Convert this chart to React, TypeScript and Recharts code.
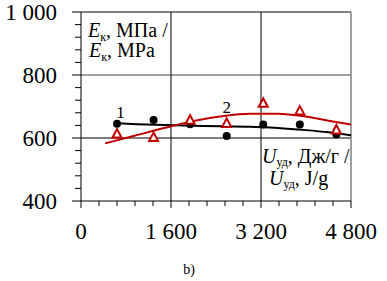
import React from "react";
import {
  ComposedChart,
  Line,
  Scatter,
  XAxis,
  YAxis,
  ReferenceLine,
} from "recharts";

// measured points, series 1 (black circles) and series 2 (red triangles)
const energy = [640, 1290, 1940, 2590, 3240, 3890, 4540];
const modulus1 = [645, 657, 644, 606, 643, 643, 611];
const modulus2 = [614, 603, 658, 648, 712, 687, 627];

// trend curves
const fit1X = [640, 1000, 1500, 2000, 2500, 3000, 3500, 4000, 4400, 4800];
const fit1Y = [647, 644, 641, 639, 637, 636, 632, 625, 618, 609];
const fit2X = [430, 950, 1600, 2000, 2500, 3000, 3500, 4000, 4400, 4800];
const fit2Y = [583, 607, 637, 654, 669, 677, 677, 668, 655, 643];

const xTicks = [0, 320, 640, 960, 1280, 1600, 1920, 2240, 2560, 2880, 3200, 3520, 3840, 4160, 4480, 4800];
const xMajor = [0, 1600, 3200, 4800];
const xMajorLabels = ["0", "1 600", "3 200", "4 800"];

const yTicks = [400, 440, 480, 520, 560, 600, 640, 680, 720, 760, 800, 840, 880, 920, 960, 1000];
const yMajor = [400, 600, 800, 1000];
const yMajorLabels = ["400", "600", "800", "1 000"];

const RED = "#c00000";
const serif = { fontFamily: '"Liberation Serif", "DejaVu Serif", serif' };

const points1 = energy.map((x, i) => ({ x, y: modulus1[i] }));
const points2 = energy.map((x, i) => ({ x, y: modulus2[i] }));
const curve1 = fit1X.map((x, i) => ({ x, y: fit1Y[i] }));
const curve2 = fit2X.map((x, i) => ({ x, y: fit2Y[i] }));

function XTick(props: any) {
  const { x, y, payload } = props;
  const i = xMajor.indexOf(payload.value);
  return (
    <g>
      <line x1={x} x2={x} y1={y} y2={y + (i >= 0 ? 7 : 5)} stroke="#000" />
      {i >= 0 && (
        <text x={x} y={y + 38} textAnchor="middle" fontSize={23} style={serif} fill="#000">
          {xMajorLabels[i]}
        </text>
      )}
    </g>
  );
}

function YTick(props: any) {
  const { x, y, payload } = props;
  const i = yMajor.indexOf(payload.value);
  return (
    <g>
      <line x1={x - (i >= 0 ? 9 : 6)} x2={x} y1={y} y2={y} stroke="#000" />
      {i >= 0 && (
        <text x={x - 24} y={y + 8} textAnchor="end" fontSize={23} style={serif} fill="#000">
          {yMajorLabels[i]}
        </text>
      )}
    </g>
  );
}

const Dot = (p: any) => <circle cx={p.cx} cy={p.cy} r={4} fill="#000" />;

const Tri = (p: any) => (
  <polygon
    points={`${p.cx},${p.cy - 4.5} ${p.cx + 4.5},${p.cy + 4} ${p.cx - 4.5},${p.cy + 4}`}
    fill="#fff"
    stroke={RED}
    strokeWidth={2}
  />
);

export default function App() {
  return (
    <div style={{ position: "absolute", left: 0, top: 0, width: 387, height: 281, background: "#fff" }}>
      <ComposedChart width={387} height={281} margin={{ top: 12, right: 36, left: 1, bottom: 0 }}>
        <XAxis
          type="number"
          dataKey="x"
          domain={[0, 4800]}
          allowDataOverflow
          ticks={xTicks}
          interval={0}
          tick={<XTick />}
          tickLine={false}
          tickSize={0}
          tickMargin={0}
          height={80}
          axisLine={{ stroke: "#000" }}
        />
        <YAxis
          type="number"
          dataKey="y"
          domain={[400, 1000]}
          allowDataOverflow
          ticks={yTicks}
          interval={0}
          tick={<YTick />}
          tickLine={false}
          tickSize={0}
          tickMargin={0}
          width={80}
          axisLine={{ stroke: "#000" }}
        />
        <ReferenceLine y={800} stroke="#808080" strokeWidth={1.5} />
        <ReferenceLine y={600} stroke="#000" />
        <ReferenceLine y={1000} stroke="#000" />
        <ReferenceLine x={1600} stroke="#000" />
        <ReferenceLine x={3200} stroke="#000" />
        <ReferenceLine x={4800} stroke="#808080" strokeWidth={1.5} />
        <Line data={curve1} dataKey="y" type="monotone" stroke="#000" strokeWidth={2} dot={false} isAnimationActive={false} />
        <Line data={curve2} dataKey="y" type="monotone" stroke={RED} strokeWidth={2} dot={false} isAnimationActive={false} />
        <Scatter data={points1} dataKey="y" shape={Dot} isAnimationActive={false} />
        <Scatter data={points2} dataKey="y" shape={Tri} isAnimationActive={false} />
      </ComposedChart>
      <svg
        width={387}
        height={281}
        style={{ position: "absolute", left: 0, top: 0, pointerEvents: "none", ...serif }}
        fill="#000"
      >
        <text x={88} y={36.5} fontSize={20}>
          <tspan fontStyle="italic">E</tspan>
          <tspan fontSize={12} dy={4}>к</tspan>
          <tspan dy={-4}>, МПа /</tspan>
        </text>
        <text x={89} y={57} fontSize={20}>
          <tspan fontStyle="italic">E</tspan>
          <tspan fontSize={12} dy={4}>к</tspan>
          <tspan dy={-4}>, MPa</tspan>
        </text>
        <text x={262} y={163} fontSize={20}>
          <tspan fontStyle="italic">U</tspan>
          <tspan fontSize={12} dy={3}>уд</tspan>
          <tspan dy={-3}>, Дж/г /</tspan>
        </text>
        <text x={269} y={185} fontSize={20}>
          <tspan fontStyle="italic">U</tspan>
          <tspan fontSize={12} dy={3}>уд</tspan>
          <tspan dy={-3}>, J/g</tspan>
        </text>
        <text x={120.5} y={117.5} fontSize={17} textAnchor="middle">1</text>
        <text x={226.7} y={113.3} fontSize={17} textAnchor="middle">2</text>
        <text x={189} y={274} fontSize={14} textAnchor="middle">b)</text>
      </svg>
    </div>
  );
}
